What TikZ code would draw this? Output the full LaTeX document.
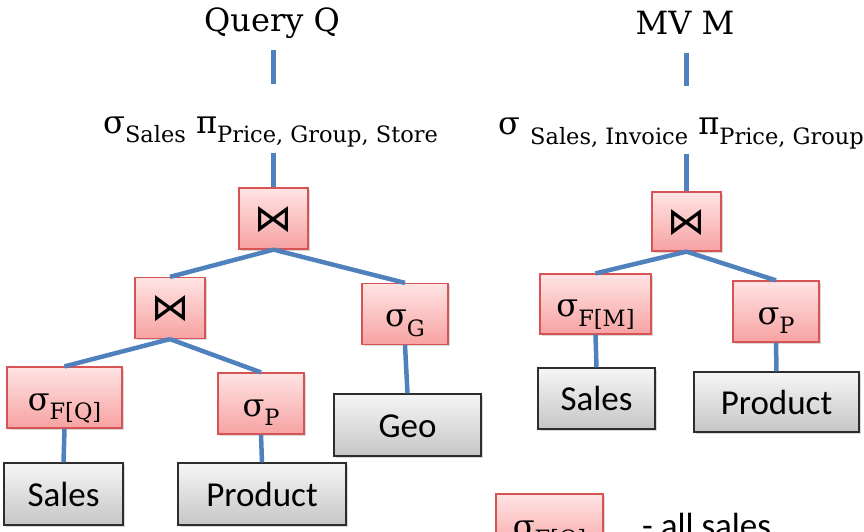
\documentclass[tikz,border=0pt]{standalone}
\usepackage{fontspec}
\setmainfont{DejaVu Serif}
\newfontfamily\relfont{Carlito}
\newfontfamily\joinfont{DejaVu Sans}
\usetikzlibrary{shadows}

\definecolor{optop}{RGB}{255,228,228}
\definecolor{opbot}{RGB}{247,162,162}
\definecolor{opline}{RGB}{214,84,84}
\definecolor{reltop}{RGB}{246,246,246}
\definecolor{relbot}{RGB}{198,198,198}
\definecolor{relline}{RGB}{45,45,45}
\definecolor{edgeblue}{RGB}{79,129,189}

\newcommand{\sbs}[1]{\raisebox{-0.3em}{\fontsize{22.5}{25}\selectfont #1}}
\newcommand{\joinop}{{\joinfont\fontsize{38}{40}\selectfont ⋈}}

\tikzset{
  opbox/.style={draw=opline, line width=1.2pt, top color=optop, bottom color=opbot,
    minimum height=61, inner sep=0pt, text height=25pt, text depth=0pt,
    font=\fontsize{32}{36}\selectfont,
    drop shadow={shadow xshift=1.5pt, shadow yshift=-1.5pt, opacity=0.3}},
  relbox/.style={draw=relline, line width=1.2pt, top color=reltop, bottom color=relbot,
    minimum height=62, inner sep=0pt, text height=24pt, text depth=0pt,
    font=\relfont\fontsize{35}{40}\selectfont,
    drop shadow={shadow xshift=1.5pt, shadow yshift=-1.5pt, opacity=0.3}},
  edge/.style={draw=edgeblue, line width=4.5pt},
  title/.style={inner sep=0pt, anchor=base, text depth=0pt, font=\fontsize{32}{36}\selectfont},
  expr/.style={inner sep=0pt, anchor=base west, text height=0pt, text depth=0pt,
    font=\fontsize{32}{36}\selectfont}
}

\begin{document}
\begin{tikzpicture}[x=1pt, y=-1pt]
\useasboundingbox (0,0) rectangle (864,532);
\clip (0,0) rectangle (864,532);

% query Q
\node[title] (qtitle) at (272,32) {Query Q};
\node[expr] (qexpr) at (103,133) {σ\sbs{Sales} π\sbs{Price, Group, Store}};
\node[opbox, minimum width=69] (qjoin) at (273.5,218.5) {\joinop};
\node[opbox, minimum width=70] (qjoinl) at (170,308) {\joinop};
\node[opbox, minimum width=86] (qselg) at (405,314) {σ\sbs{G}};
\node[opbox, minimum width=115] (qself) at (64.5,397.5) {σ\sbs{F[Q]}};
\node[opbox, minimum width=86] (qselp) at (261,403.5) {σ\sbs{P}};
\node[relbox, minimum width=147] (qgeo) at (407.5,425) {Geo};
\node[relbox, minimum width=119] (qsales) at (63.5,494) {Sales};
\node[relbox, minimum width=168] (qproduct) at (262,494) {Product};

\draw[edge, shorten <=18pt, shorten >=48pt] (qtitle.south -| qjoin) -- (qexpr.north -| qjoin);
\draw[edge, shorten <=19pt] (qexpr.south -| qjoin) -- (qjoin.north);
\draw[edge] (qjoin.south) -- (qjoinl.north);
\draw[edge] (qjoin.south) -- (qselg.north);
\draw[edge] (qjoinl.south) -- (qself.north);
\draw[edge] (qjoinl.south) -- (qselp.north);
\draw[edge] (qselg.south) -- (qgeo.north);
\draw[edge] (qself.south) -- (qsales.north);
\draw[edge] (qselp.south) -- (qproduct.north);

% view M
\node[title] (mtitle) at (685,35) {MV M};
\node[expr] (mexpr) at (498,135) {σ \sbs{Sales, Invoice} π\sbs{Price, Group}};
\node[opbox, minimum width=69, minimum height=59] (mjoin) at (686.5,221.5) {\joinop};
\node[opbox, minimum width=111, minimum height=60] (mself) at (595.5,304) {σ\sbs{F[M]}};
\node[opbox, minimum width=86] (mselp) at (776,311.5) {σ\sbs{P}};
\node[relbox, minimum width=117, minimum height=61] (msales) at (596.5,398.5) {Sales};
\node[relbox, minimum width=165, minimum height=60] (mproduct) at (776.5,402) {Product};

\draw[edge, shorten <=18pt, shorten >=48pt] (mtitle.south -| mjoin) -- (mexpr.north -| mjoin);
\draw[edge, shorten <=18pt] (mexpr.south -| mjoin) -- (mjoin.north);
\draw[edge] (mjoin.south) -- (mself.north);
\draw[edge] (mjoin.south) -- (mselp.north);
\draw[edge] (mself.south) -- (msales.north);
\draw[edge] (mselp.south) -- (mproduct.north);

% legend
\node[opbox, minimum width=107] (legsel) at (549.5,524.5) {σ\sbs{F[Q]}};
\node[inner sep=0pt, anchor=base west, font=\relfont\fontsize{35}{40}\selectfont] (legtext) at (642,537) {- all sales};
\end{tikzpicture}
\end{document}
